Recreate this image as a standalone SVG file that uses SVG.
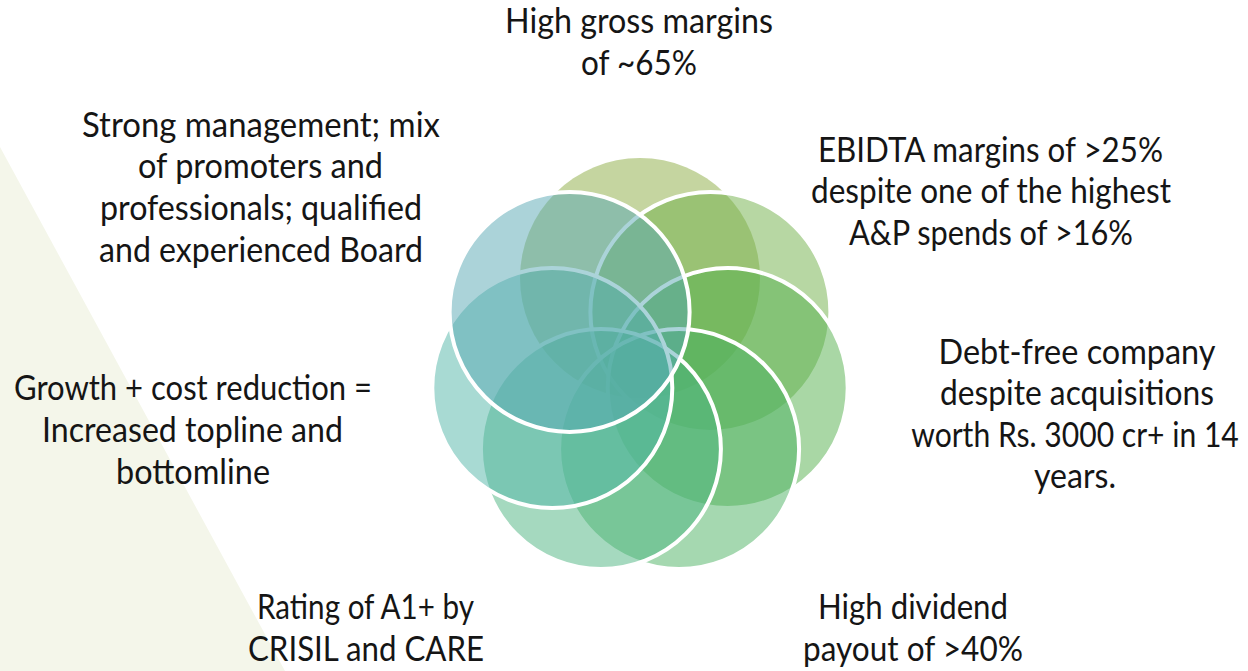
<svg xmlns="http://www.w3.org/2000/svg" width="1248" height="671" viewBox="0 0 1248 671">
  <style>
    .lbl { font-family: Lato, "Open Sans", "Liberation Sans", sans-serif; font-size: 34px; font-weight: 400; fill: #151515; text-anchor: middle; }
    .petal { stroke: #ffffff; stroke-width: 4; fill-opacity: 0.5; }
    .nostroke { stroke: none; }
  </style>
  <rect x="0" y="0" width="1248" height="671" fill="#ffffff"/>
  <polygon points="0,147 285,671 0,671" fill="#f4f6ea"/>
  <g id="connectors"/>
  <g id="node-gross-margins">
    <circle class="petal nostroke" cx="640" cy="278" r="120" fill="#8bab41"/>
    <text class="lbl" x="639" y="33" textLength="268" lengthAdjust="spacingAndGlyphs">High gross margins</text>
    <text class="lbl" x="639" y="75" textLength="116" lengthAdjust="spacingAndGlyphs">of ~65%</text>
  </g>
  <g id="node-ebidta">
    <circle class="petal" cx="710.4" cy="311.9" r="120" fill="#6faf47"/>
    <text class="lbl" x="990.5" y="162" textLength="345" lengthAdjust="spacingAndGlyphs">EBIDTA margins of &gt;25%</text>
    <text class="lbl" x="991" y="203" textLength="360" lengthAdjust="spacingAndGlyphs">despite one of the highest</text>
    <text class="lbl" x="991" y="245" textLength="284" lengthAdjust="spacingAndGlyphs">A&amp;P spends of &gt;16%</text>
  </g>
  <g id="node-debt-free">
    <circle class="petal" cx="727.7" cy="388" r="120" fill="#53af4b"/>
    <text class="lbl" x="1077" y="364" textLength="277" lengthAdjust="spacingAndGlyphs">Debt-free company</text>
    <text class="lbl" x="1077" y="405" textLength="274" lengthAdjust="spacingAndGlyphs">despite acquisitions</text>
    <text class="lbl" transform="translate(1075 447) scale(0.9 1)" x="0" y="0" textLength="364" lengthAdjust="spacingAndGlyphs">worth Rs. 3000 cr+ in 14</text>
    <text class="lbl" x="1075" y="488" textLength="82" lengthAdjust="spacingAndGlyphs">years.</text>
  </g>
  <g id="node-dividend">
    <circle class="petal" cx="679.1" cy="449.1" r="120" fill="#4bb161"/>
    <text class="lbl" x="913" y="619" textLength="190" lengthAdjust="spacingAndGlyphs">High dividend</text>
    <text class="lbl" x="913" y="661" textLength="220" lengthAdjust="spacingAndGlyphs">payout of &gt;40%</text>
  </g>
  <g id="node-rating">
    <circle class="petal" cx="600.9" cy="449.1" r="120" fill="#4bb37f"/>
    <text class="lbl" x="365.5" y="619" textLength="217" lengthAdjust="spacingAndGlyphs">Rating of A1+ by</text>
    <text class="lbl" x="366" y="661" textLength="236" lengthAdjust="spacingAndGlyphs">CRISIL and CARE</text>
  </g>
  <g id="node-growth">
    <circle class="petal" cx="552.3" cy="388" r="120" fill="#51b5a7"/>
    <text class="lbl" x="193" y="400" textLength="358" lengthAdjust="spacingAndGlyphs">Growth + cost reduction =</text>
    <text class="lbl" x="192.5" y="442" textLength="301" lengthAdjust="spacingAndGlyphs">Increased topline and</text>
    <text class="lbl" x="193" y="484" textLength="154" lengthAdjust="spacingAndGlyphs">bottomline</text>
  </g>
  <g id="node-management">
    <circle class="petal" cx="569.6" cy="311.9" r="120" fill="#57a7b3"/>
    <text class="lbl" x="261" y="137" textLength="358" lengthAdjust="spacingAndGlyphs">Strong management; mix</text>
    <text class="lbl" x="260.5" y="178" textLength="245" lengthAdjust="spacingAndGlyphs">of promoters and</text>
    <text class="lbl" x="261" y="220" textLength="322" lengthAdjust="spacingAndGlyphs">professionals; qualified</text>
    <text class="lbl" x="261" y="262" textLength="324" lengthAdjust="spacingAndGlyphs">and experienced Board</text>
  </g>
</svg>
